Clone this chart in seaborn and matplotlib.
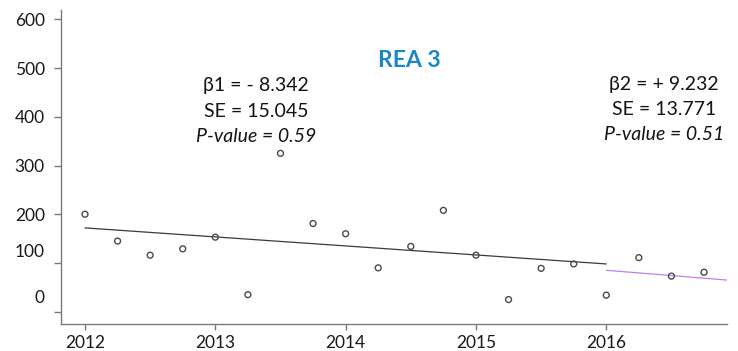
import matplotlib
matplotlib.use("Agg")
import matplotlib.pyplot as plt
from matplotlib.transforms import ScaledTranslation
import seaborn as sns
import pandas as pd

# Quarterly observations
quarters = [2012.00, 2012.25, 2012.50, 2012.75,
            2013.00, 2013.25, 2013.50, 2013.75,
            2014.00, 2014.25, 2014.50, 2014.75,
            2015.00, 2015.25, 2015.50, 2015.75,
            2016.00, 2016.25, 2016.50, 2016.75]
values = [200, 145, 116, 129,
          153, 35, 325, 181,
          160, 90, 134, 208,
          116, 25, 89, 98,
          34, 111, 73, 81]

# Fitted trend segments (before / after 2016)
trend1_x = [2012.0, 2016.0]
trend1_y = [172, 98]
trend2_x = [2016.0, 2016.924]
trend2_y = [85, 65]

y_ticks = [0, 100, 200, 300, 400, 500, 600]
x_ticks = [2012, 2013, 2014, 2015, 2016]

title = "REA 3"
stats1 = ["β1 = - 8.342", "SE = 15.045", "P-value = 0.59"]
stats2 = ["β2 = + 9.232", "SE = 13.771", "P-value = 0.51"]

sns.set_theme(style="ticks")
plt.rcParams["font.family"] = ["Lato", "DejaVu Sans"]

fig = plt.figure(figsize=(7.38, 3.51), dpi=100)
ax = fig.add_axes([60.7 / 738, 1 - 324 / 351, 666 / 738, 314 / 351])

df = pd.DataFrame({"quarter": quarters, "value": values})
sns.scatterplot(data=df, x="quarter", y="value", ax=ax, marker="o", s=18,
                facecolor="none", edgecolor="#4a4a4a", linewidth=1.0, zorder=3)

sns.lineplot(x=trend1_x, y=trend1_y, ax=ax, color="#3a3a3a", linewidth=0.9)
sns.lineplot(x=trend2_x, y=trend2_y, ax=ax, color="#c27ee8", linewidth=0.9)

ax.set_xlim(2011.8135, 2016.924)
ax.set_ylim(-25.2, 619.1)
ax.set_xticks(x_ticks)
ax.set_xticklabels([str(t) for t in x_ticks])
ax.set_yticks(y_ticks)
ax.set_yticklabels([str(t) for t in y_ticks])
ax.set_xlabel("")
ax.set_ylabel("")

sns.despine(ax=ax)
for side in ("left", "bottom"):
    ax.spines[side].set_color("#7a7a7a")
    ax.spines[side].set_linewidth(1.0)
ax.tick_params(axis="y", length=5, width=1.0, color="#7a7a7a", pad=6.5,
               labelsize=12.5, labelcolor="#1a1a1a")
ax.tick_params(axis="x", length=4.5, width=1.0, color="#7a7a7a", pad=3.5,
               labelsize=12.5, labelcolor="#1a1a1a")

# the two lowest y labels sit a little above their ticks
shifts = {"100": 12.6, "0": 15.0}
for lab in ax.get_yticklabels():
    dy = shifts.get(lab.get_text())
    if dy:
        lab.set_transform(lab.get_transform() +
                          ScaledTranslation(0, dy / 100, fig.dpi_scale_trans))

ax.text(0.523, 0.8385, title, transform=ax.transAxes, ha="center", va="center",
        fontsize=16.5, fontweight="bold", color="#1a87c8")

ys1 = [0.761, 0.678, 0.597]
ys2 = [0.764, 0.684, 0.605]
for txt, y in zip(stats1, ys1):
    ax.text(0.293, y, txt, transform=ax.transAxes, ha="center", va="center",
            fontsize=14, color="#141414",
            style="italic" if txt.startswith("P-") else "normal")
for txt, y in zip(stats2, ys2):
    ax.text(0.906, y, txt, transform=ax.transAxes, ha="center", va="center",
            fontsize=14, color="#141414",
            style="italic" if txt.startswith("P-") else "normal")

fig.savefig("out.png", dpi=100)
